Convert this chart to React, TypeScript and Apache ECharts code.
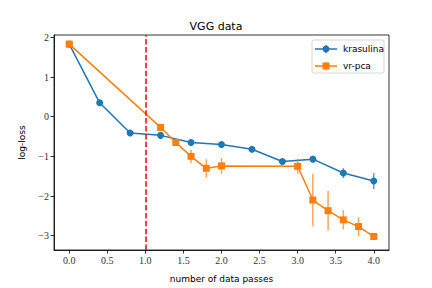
import React, { useEffect, useRef } from "react";
import * as echarts from "echarts";

const krasX = [0, 0.4, 0.8, 1.2, 1.6, 2.0, 2.4, 2.8, 3.2, 3.6, 4.0];
const krasY = [1.83, 0.35, -0.41, -0.47, -0.65, -0.7, -0.82, -1.13, -1.07, -1.42, -1.62];
const krasErr = [0.02, 0.03, 0.03, 0.03, 0.03, 0.04, 0.04, 0.06, 0.05, 0.125, 0.2];

const vrX = [0, 1.2, 1.4, 1.6, 1.8, 2.0, 3.0, 3.2, 3.4, 3.6, 3.8, 4.0];
const vrY = [1.83, -0.27, -0.65, -1.0, -1.3, -1.24, -1.25, -2.1, -2.37, -2.6, -2.77, -3.02];
const vrErr = [0.02, 0.04, 0.05, 0.17, 0.23, 0.2, 0.19, 0.66, 0.5, 0.24, 0.24, 0.04];

const xTicks = [0, 0.5, 1.0, 1.5, 2.0, 2.5, 3.0, 3.5, 4.0];
const yTicks = [-3, -2, -1, 0, 1, 2];
const vLineX = 1.0;

const BLUE = "#1f77b4";
const ORANGE = "#ff7f0e";
const SANS = "DejaVu Sans";
const SERIF = "Liberation Serif";

function errRender(color: string) {
  return (params: any, api: any) => {
    const x = api.value(0);
    const p1 = api.coord([x, api.value(1)]);
    const p2 = api.coord([x, api.value(2)]);
    return {
      type: "line",
      shape: { x1: p1[0], y1: p1[1], x2: p2[0], y2: p2[1] },
      style: { stroke: color, lineWidth: 1.5, opacity: 0.7 },
    };
  };
}

function legendRow(y: number, color: string, symbol: "circle" | "rect", label: string) {
  const cx = 326;
  const els: any[] = [
    { type: "line", shape: { x1: 315, y1: y, x2: 337, y2: y }, style: { stroke: color, lineWidth: 1.5 } },
    { type: "line", shape: { x1: cx, y1: y - 4, x2: cx, y2: y + 4 }, style: { stroke: color, lineWidth: 1.5, opacity: 0.7 } },
  ];
  if (symbol === "circle") {
    els.push({ type: "circle", shape: { cx, cy: y, r: 3.5 }, style: { fill: color } });
  } else {
    els.push({ type: "rect", shape: { x: cx - 3.5, y: y - 3.5, width: 7, height: 7 }, style: { fill: color } });
  }
  els.push({
    type: "text",
    x: 343,
    y,
    style: { text: label, fill: "#000", font: `9px ${SANS}`, verticalAlign: "middle", align: "left" },
  });
  return els;
}

export default function App() {
  const ref = useRef<HTMLDivElement>(null);
  useEffect(() => {
    if (!ref.current) return;
    const chart = echarts.init(ref.current, null, { renderer: "svg" });
    const fmtMinus = (v: number) => (v < 0 ? "\u2212" + Math.abs(v) : String(v));
    chart.setOption({
      animation: false,
      backgroundColor: "#fff",
      title: {
        text: "VGG data",
        left: "center",
        top: 16,
        textStyle: { fontFamily: SANS, fontSize: 11, fontWeight: "normal", color: "#000" },
      },
      grid: { left: 54, right: 43, top: 35, bottom: 36, show: true, borderColor: "#000", borderWidth: 0.8, backgroundColor: "transparent" },
      xAxis: {
        type: "value",
        min: -0.2,
        max: 4.2,
        name: "number of data passes",
        nameLocation: "middle",
        nameGap: 24,
        nameTextStyle: { fontFamily: SANS, fontSize: 9, color: "#000" },
        splitLine: { show: false },
        axisLine: { show: true, onZero: false, lineStyle: { color: "#000", width: 0.8 } },
        axisTick: { show: true, length: 3.5, inside: false, customValues: xTicks, lineStyle: { color: "#000", width: 0.8 } },
        axisLabel: {
          customValues: xTicks,
          formatter: (v: number) => v.toFixed(1),
          fontFamily: SERIF,
          fontSize: 10,
          color: "#333",
          margin: 5,
        },
      },
      yAxis: {
        type: "value",
        min: -3.36,
        max: 2.06,
        name: "log-loss",
        nameLocation: "middle",
        nameGap: 28,
        nameTextStyle: { fontFamily: SANS, fontSize: 9, color: "#000" },
        splitLine: { show: false },
        axisLine: { show: true, onZero: false, lineStyle: { color: "#000", width: 0.8 } },
        axisTick: { show: true, length: 3.5, inside: false, customValues: yTicks, lineStyle: { color: "#000", width: 0.8 } },
        axisLabel: {
          customValues: yTicks,
          formatter: fmtMinus,
          fontFamily: SERIF,
          fontSize: 10,
          color: "#333",
          margin: 5,
        },
      },
      series: [
        {
          type: "custom",
          renderItem: errRender(BLUE),
          data: krasX.map((x, i) => [x, krasY[i] - krasErr[i], krasY[i] + krasErr[i]]),
          encode: { x: 0, y: [1, 2] },
          z: 2,
          silent: true,
        },
        {
          type: "line",
          name: "krasulina",
          data: krasX.map((x, i) => [x, krasY[i]]),
          symbol: "circle",
          symbolSize: 7,
          lineStyle: { color: BLUE, width: 1.5 },
          itemStyle: { color: BLUE },
          z: 3,
        },
        {
          type: "custom",
          renderItem: errRender(ORANGE),
          data: vrX.map((x, i) => [x, vrY[i] - vrErr[i], vrY[i] + vrErr[i]]),
          encode: { x: 0, y: [1, 2] },
          z: 4,
          silent: true,
        },
        {
          type: "line",
          name: "vr-pca",
          data: vrX.map((x, i) => [x, vrY[i]]),
          symbol: "rect",
          symbolSize: 7,
          lineStyle: { color: ORANGE, width: 1.5 },
          itemStyle: { color: ORANGE },
          z: 5,
          markLine: {
            silent: true,
            symbol: ["none", "none"],
            label: { show: false },
            lineStyle: { color: "#ff0000", type: [5.5, 2.4], width: 1.5 },
            data: [{ xAxis: vLineX }],
            z: 10,
          },
        },
      ],
      graphic: [
        {
          type: "rect",
          shape: { x: 312, y: 40, width: 72, height: 33, r: 2 },
          style: { fill: "rgba(255,255,255,0.8)", stroke: "#cccccc", lineWidth: 0.8 },
          z: 20,
        },
        ...legendRow(49, BLUE, "circle", "krasulina").map((e) => ({ ...e, z: 21 })),
        ...legendRow(66, ORANGE, "rect", "vr-pca").map((e) => ({ ...e, z: 21 })),
      ],
    });
    return () => chart.dispose();
  }, []);
  return <div ref={ref} style={{ position: "fixed", left: 0, top: 0, width: 432, height: 288 }} />;
}
